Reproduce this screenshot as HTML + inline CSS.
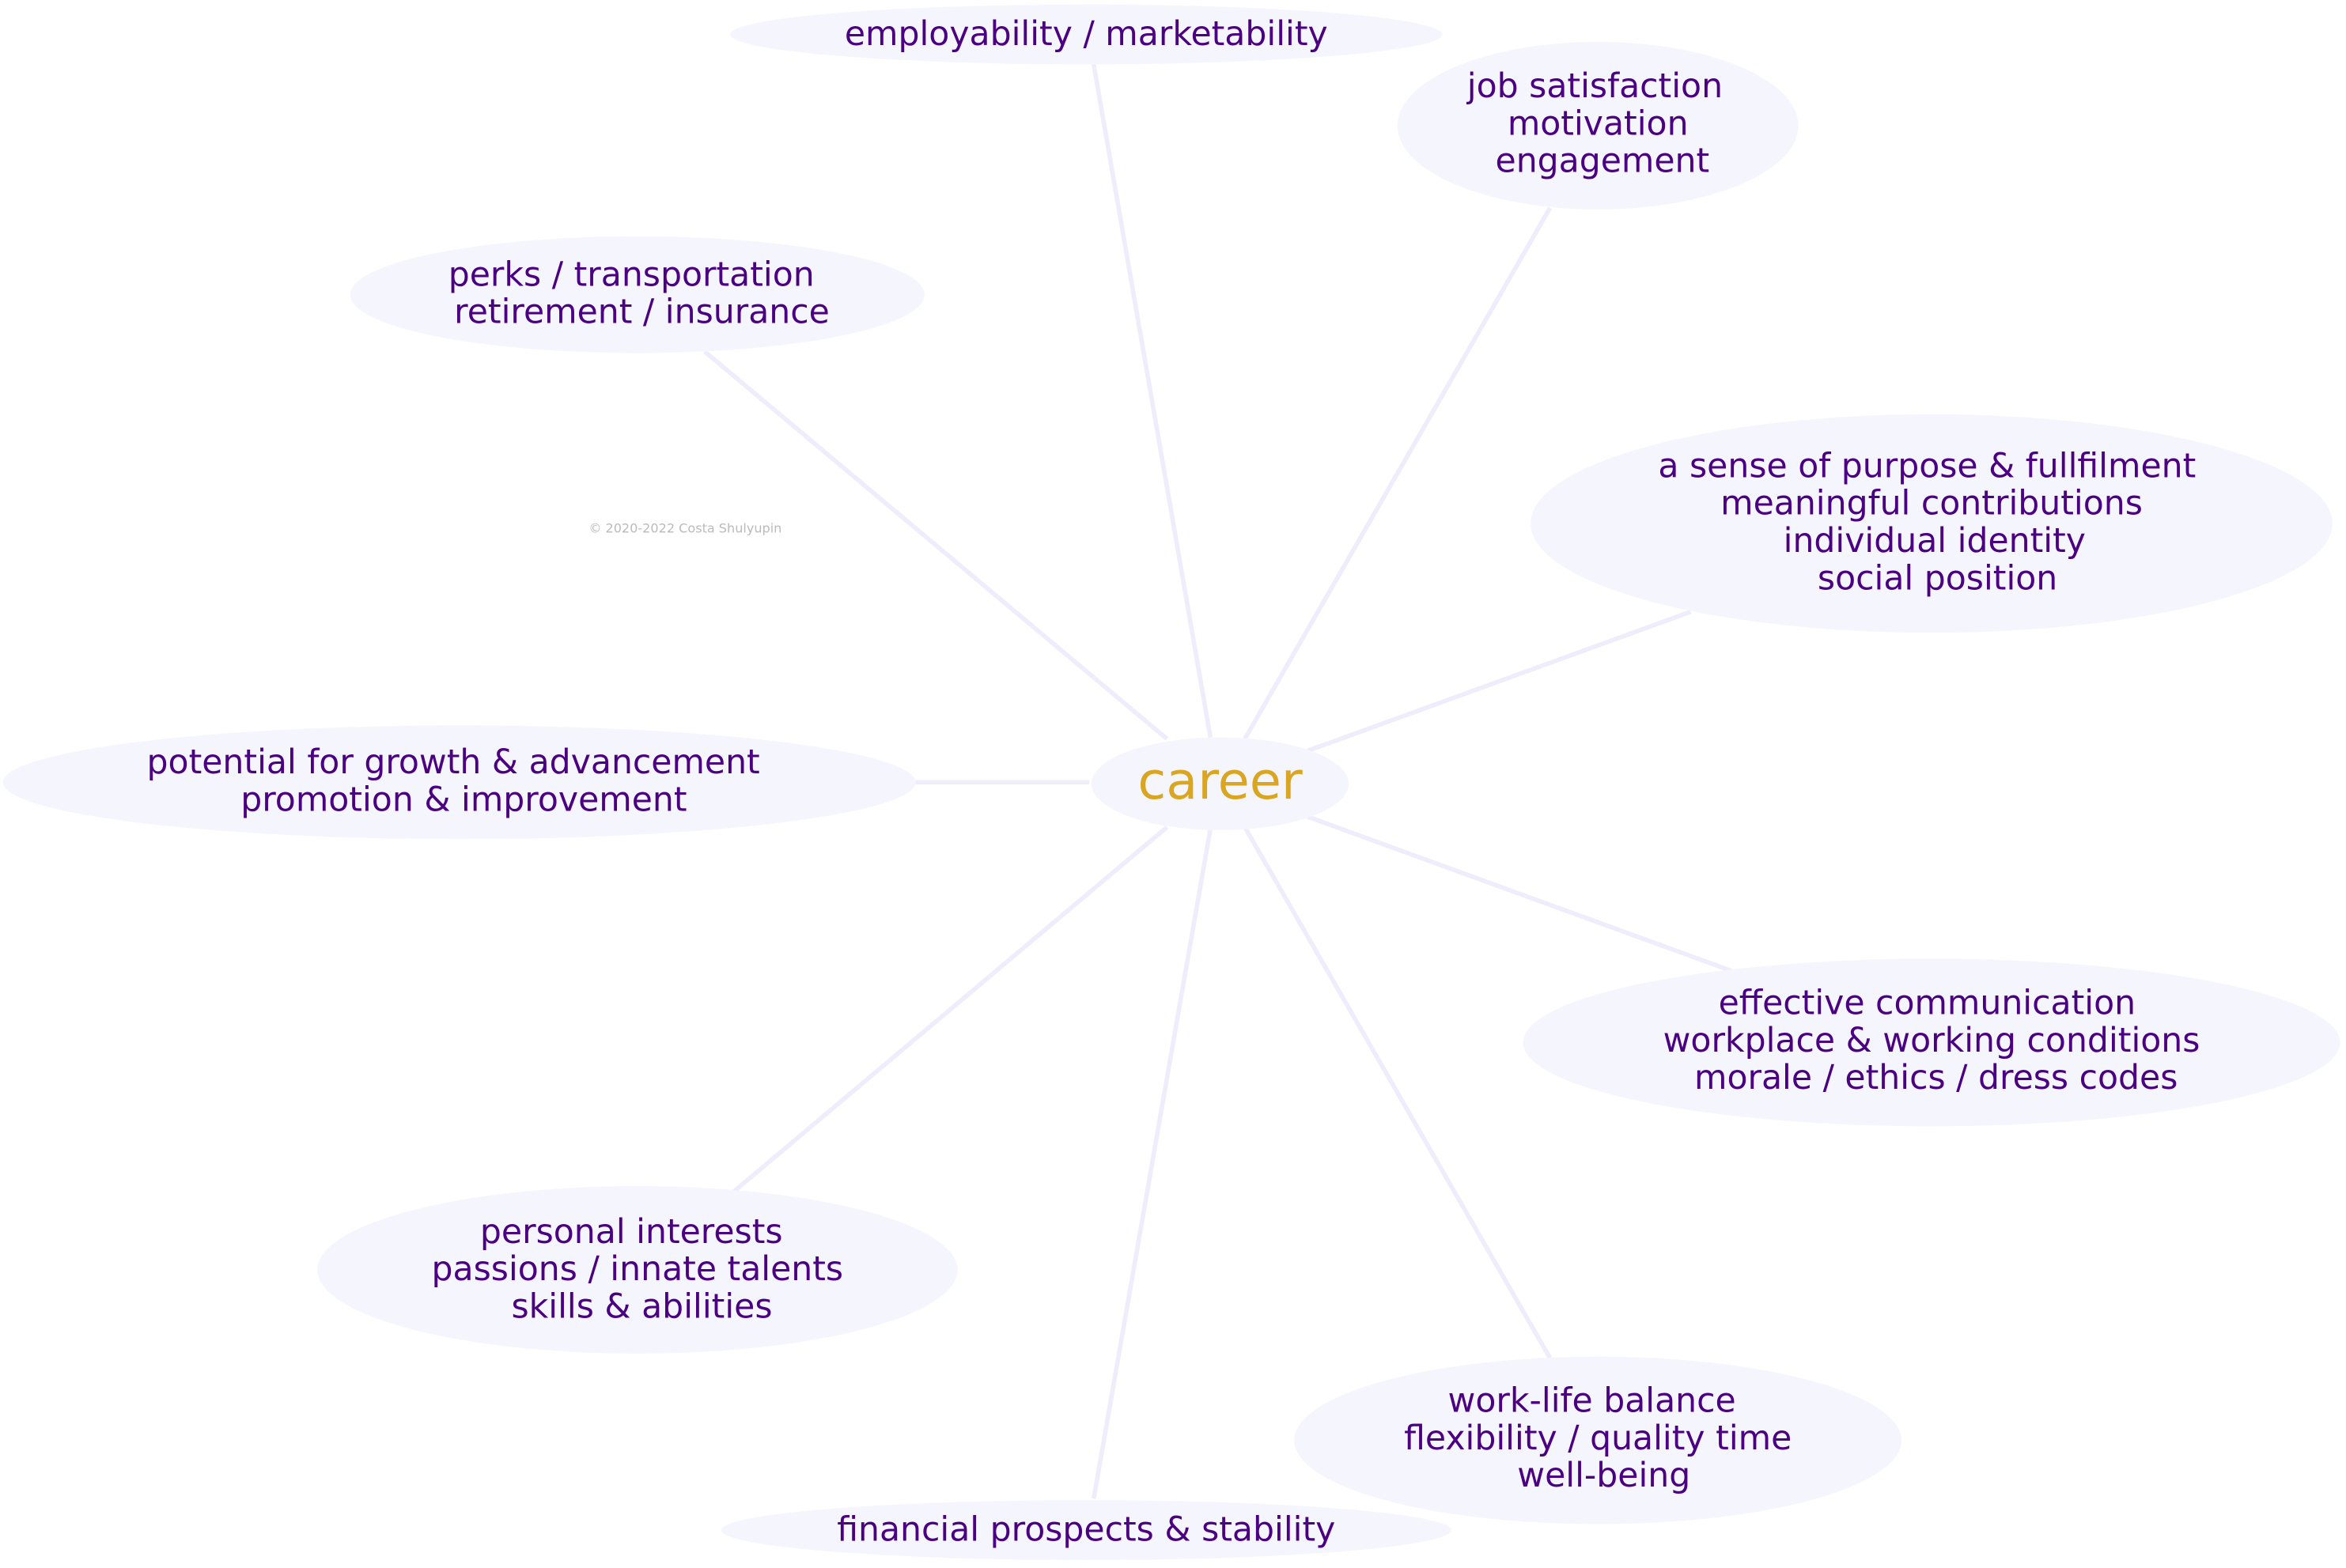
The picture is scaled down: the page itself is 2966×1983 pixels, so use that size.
<!DOCTYPE html>
<html><head><meta charset="utf-8"><style>html,body{margin:0;padding:0;background:#fff}svg{display:block}</style></head>
<body>
<svg width="2966" height="1983" viewBox="0 0 1568 1048.3" xmlns="http://www.w3.org/2000/svg">
<rect width="1568" height="1048.3" fill="#fff"/>
<g stroke="#efedfb" stroke-width="3" fill="none">
<line x1="809" y1="493" x2="731" y2="43"/>
<line x1="832" y1="494" x2="1036" y2="139"/>
<line x1="780" y1="494" x2="471" y2="235"/>
<line x1="874" y1="502" x2="1130" y2="409"/>
<line x1="728" y1="523" x2="612" y2="523"/>
<line x1="874" y1="546" x2="1157" y2="649"/>
<line x1="780" y1="553" x2="490" y2="797"/>
<line x1="809" y1="554" x2="731" y2="1002"/>
<line x1="832" y1="553" x2="1036" y2="908"/>
</g>
<g fill="#f5f5fd">
<ellipse cx="726" cy="23" rx="238" ry="20"/>
<ellipse cx="1068" cy="84" rx="134" ry="56"/>
<ellipse cx="426" cy="197" rx="192" ry="39"/>
<ellipse cx="1291" cy="350" rx="268" ry="73"/>
<ellipse cx="307" cy="523" rx="305" ry="38"/>
<ellipse cx="815.5" cy="524" rx="86" ry="31"/>
<ellipse cx="1291" cy="697" rx="273" ry="56"/>
<ellipse cx="426" cy="849" rx="214" ry="56"/>
<ellipse cx="1068" cy="963" rx="203" ry="56"/>
<ellipse cx="726" cy="1023" rx="244" ry="20"/>
</g>
<g font-family="DejaVu Sans, Liberation Sans, sans-serif" font-size="22.5" fill="#4b0082" text-anchor="middle">
<text x="726" y="30">employability / marketability</text>
<text x="1066" y="65">job satisfaction</text>
<text x="1068" y="90">motivation</text>
<text x="1071" y="115">engagement</text>
<text x="422" y="191">perks / transportation</text>
<text x="429" y="216">retirement / insurance</text>
<text x="1288" y="319">a sense of purpose &amp; fullfilment</text>
<text x="1291" y="344">meaningful contributions</text>
<text x="1293" y="369">individual identity</text>
<text x="1295" y="394">social position</text>
<text x="303" y="517">potential for growth &amp; advancement</text>
<text x="310" y="542">promotion &amp; improvement</text>
<text x="1288" y="678">effective communication</text>
<text x="1291" y="703">workplace &amp; working conditions</text>
<text x="1294" y="728">morale / ethics / dress codes</text>
<text x="422" y="831">personal interests</text>
<text x="426" y="856">passions / innate talents</text>
<text x="429" y="881">skills &amp; abilities</text>
<text x="1064" y="944">work-life balance</text>
<text x="1068" y="969">flexibility / quality time</text>
<text x="1072" y="994">well-being</text>
<text x="726" y="1030">financial prospects &amp; stability</text>
</g>
<text x="815.5" y="534" font-family="DejaVu Sans, Liberation Sans, sans-serif" font-size="34.5" fill="#daa520" text-anchor="middle">career</text>
<text x="458" y="356" font-family="DejaVu Sans, Liberation Sans, sans-serif" font-size="8.5" fill="#bbbbbb" text-anchor="middle">© 2020-2022 Costa Shulyupin</text>
</svg>
</body></html>
